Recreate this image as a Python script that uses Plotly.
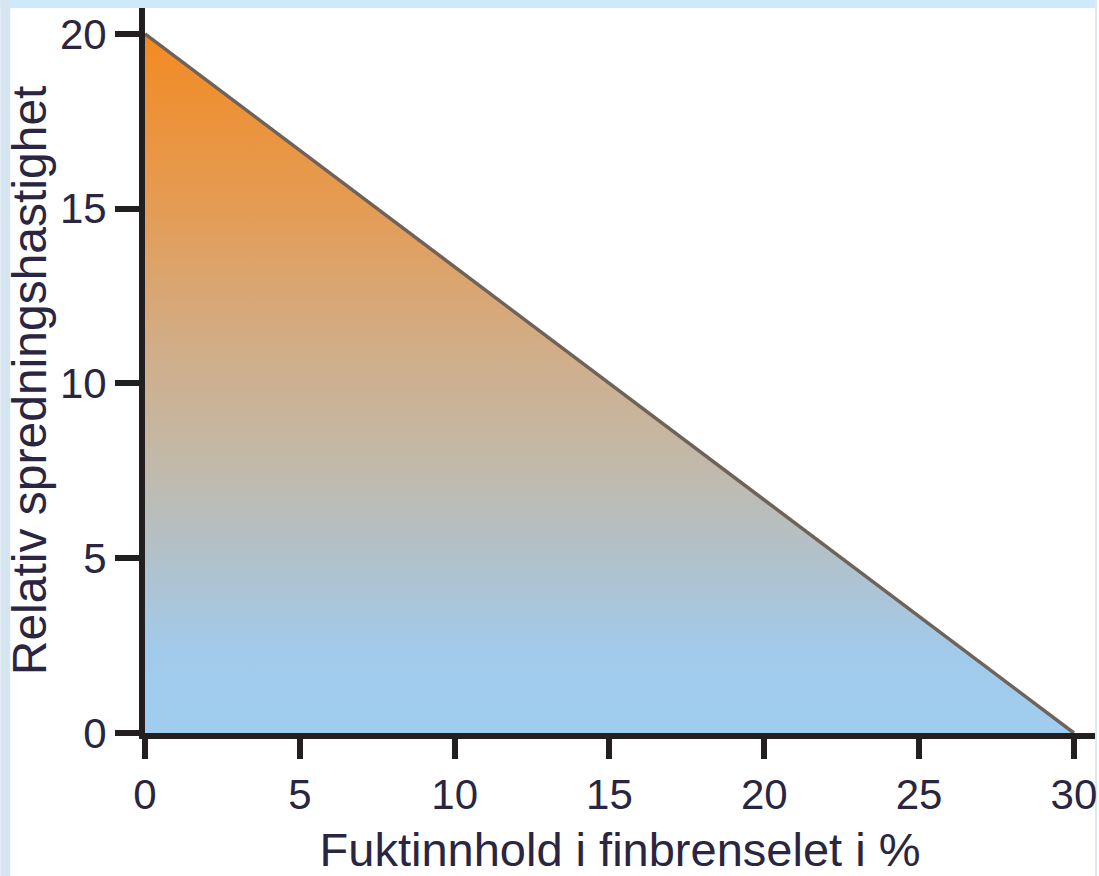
import plotly.graph_objects as go

# Data
moisture = [0, 30]          # Fuktinnhold i finbrenselet i %
speed = [20, 0]             # Relativ spredningshastighet
x_ticks = [0, 5, 10, 15, 20, 25, 30]
x_ticklabels = ["0", "5", "10", "15", "20", "25", "30"]
y_ticks = [0, 5, 10, 15, 20]
y_ticklabels = ["0", "5", "10", "15", "20"]
x_title = "Fuktinnhold i finbrenselet i %"
y_title = "Relativ spredningshastighet"

W, H = 1099, 876
ML, MR, MT, MB = 145, 2, 8, 143
PW = W - ML - MR
PH = H - MT - MB

axis_col = "#231f20"
text_col = "#2a2540"
font_fam = "Liberation Sans, Arial, sans-serif"
tickfont = dict(family=font_fam, size=42, color=text_col)

fig = go.Figure()
fig.add_trace(go.Scatter(
    x=moisture, y=speed, mode="lines",
    line=dict(color="#6f6258", width=3.5),
    fill="tozeroy",
    fillgradient=dict(
        type="vertical",
        colorscale=[
            [0.0, "#a0cdef"],
            [0.12, "#a2caea"],
            [0.27, "#b4c0c6"],
            [0.42, "#c5b7a2"],
            [0.55, "#d1ad88"],
            [0.75, "#e49c55"],
            [1.0, "#f38a22"],
        ],
    ),
    hoverinfo="skip",
    showlegend=False,
))

shapes = [
    # top border
    dict(type="rect", xref="paper", yref="paper",
         x0=-ML / PW, x1=1 + MR / PW, y0=1, y1=1 + MT / PH,
         fillcolor="#cde9fb", line=dict(width=0), layer="below"),
    # left border
    dict(type="rect", xref="paper", yref="paper",
         x0=-ML / PW, x1=-(ML - 10) / PW, y0=-MB / PH, y1=1 + MT / PH,
         fillcolor="#d6e6f1", line=dict(width=0), layer="below"),
    # right thin border
    dict(type="rect", xref="paper", yref="paper",
         x0=1, x1=1 + MR / PW, y0=-MB / PH, y1=1 + MT / PH,
         fillcolor="#dde8ef", line=dict(width=0), layer="below"),
]

annotations = [
    dict(text=y_title, xref="paper", yref="paper",
         x=(29 - ML) / PW, y=1 - (380 - MT) / PH,
         xanchor="center", yanchor="middle", textangle=-90, showarrow=False,
         font=dict(family=font_fam, size=48, color=text_col)),
]

fig.update_layout(
    width=W, height=H,
    margin=dict(l=ML, r=MR, t=MT, b=MB, pad=0),
    paper_bgcolor="white", plot_bgcolor="white",
    shapes=shapes,
    annotations=annotations,
    xaxis=dict(
        range=[0, 30.68], tickvals=x_ticks, ticktext=x_ticklabels,
        showline=True, linewidth=6, linecolor=axis_col,
        ticks="outside", ticklen=20, tickwidth=6, tickcolor=axis_col,
        showgrid=False, zeroline=False, tickfont=tickfont,
        ticklabeloverflow="allow",
        title=dict(text=x_title,
                   font=dict(family=font_fam, size=47, color=text_col), standoff=20),
        fixedrange=True,
    ),
    yaxis=dict(
        range=[0, 20.74], tickvals=y_ticks, ticktext=y_ticklabels,
        showline=True, linewidth=6, linecolor=axis_col,
        ticks="outside", ticklen=24, tickwidth=6, tickcolor=axis_col,
        showgrid=False, zeroline=False, tickfont=tickfont,
        ticklabeloverflow="allow",
        fixedrange=True,
    ),
)

fig.write_html(
    "out.html",
    config={"displayModeBar": False},
    post_script="document.body.style.margin='0';document.body.style.overflow='hidden';",
)
